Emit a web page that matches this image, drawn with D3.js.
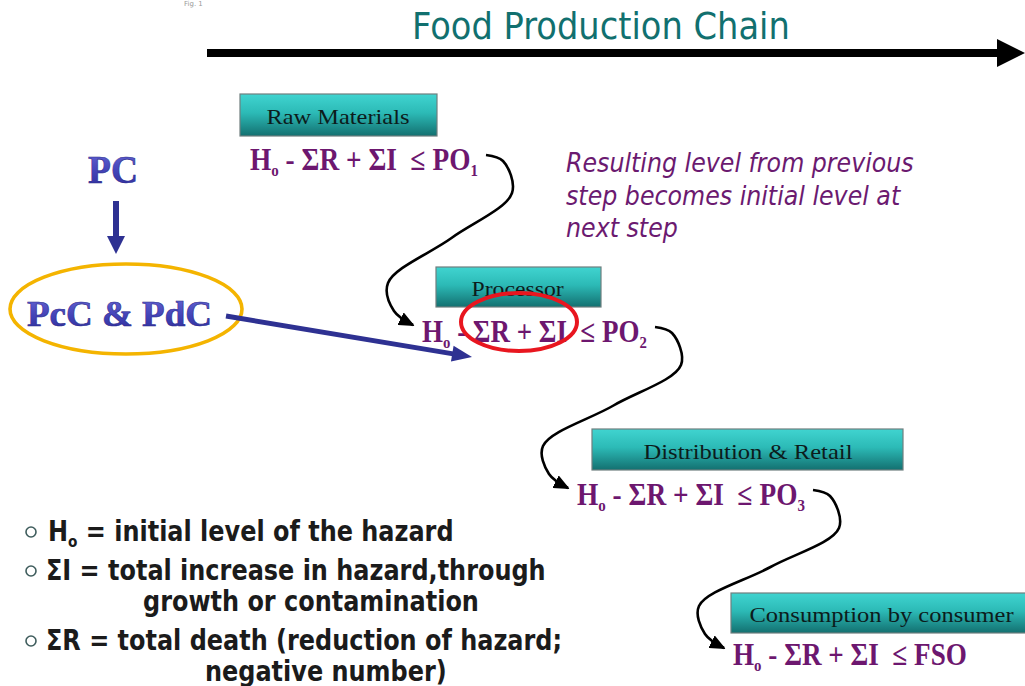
<!DOCTYPE html>
<html>
<head>
<meta charset="utf-8">
<script src="https://cdn.jsdelivr.net/npm/d3@7"></script>
<style>
  html, body { margin: 0; padding: 0; background: #fff; overflow: hidden; }
  svg { display: block; }
  text { white-space: pre; }
</style>
</head>
<body>
<svg id="chart" width="1025" height="686"></svg>
<script>
// steps of the chain, top to bottom
const steps = ["Raw Materials", "Processor", "Distribution & Retail", "Consumption by consumer"];
const limits = ["PO", "PO", "PO", "FSO"];
const limitSubs = ["1", "2", "3", ""];

const noteLines = ["Resulting level from previous", "step becomes initial level at", "next step"];

// legend at the bottom left
const legendSymbols = ["H", "\u03a3I", "", "\u03a3R", ""];
const legendSubs = ["o", "", "", "", ""];
const legendTexts = [
  " = initial level of the hazard",
  " = total increase in hazard,through",
  "growth or contamination",
  " = total death (reduction of hazard;",
  "negative number)"
];

// layout (pixels)
const boxPos = [[240, 94, 197, 42], [436, 267, 165, 40], [592, 429, 311, 41], [731, 593, 300, 40]];
const boxTextPos = [[338, 124, 143], [518, 296, 93], [748, 459, 209], [882, 622, 265]];
const formulaPos = [[250, 170, 228], [422, 342, 225], [577, 505, 228], [733, 665, 234]];
const legendPos = [[48, 541, true], [46, 580, true], [143, 611, false], [46, 650, true], [205, 681, false]];

const serif = "'Liberation Serif', 'Times New Roman', serif";
const sans = "'DejaVu Sans', Verdana, sans-serif";
const purple = "#6d176f";
const navy = "#2e3192";

const svg = d3.select("#chart");
const defs = svg.append("defs");

const boxGrad = defs.append("linearGradient").attr("id", "boxFill")
  .attr("x1", 0).attr("y1", 0).attr("x2", 0).attr("y2", 1);
boxGrad.append("stop").attr("offset", "0%").attr("stop-color", "#40d4d0");
boxGrad.append("stop").attr("offset", "45%").attr("stop-color", "#2cbab6");
boxGrad.append("stop").attr("offset", "100%").attr("stop-color", "#137070");

const blueGrad = defs.append("linearGradient").attr("id", "blueFill")
  .attr("x1", 0).attr("y1", 0).attr("x2", 0).attr("y2", 1);
blueGrad.append("stop").attr("offset", "0%").attr("stop-color", "#6a6ad8");
blueGrad.append("stop").attr("offset", "55%").attr("stop-color", "#4343b8");
blueGrad.append("stop").attr("offset", "100%").attr("stop-color", "#2c2c96");

defs.append("marker").attr("id", "blackHead")
  .attr("markerUnits", "userSpaceOnUse")
  .attr("viewBox", "0 0 16 14").attr("refX", 14).attr("refY", 7)
  .attr("markerWidth", 16).attr("markerHeight", 14).attr("orient", "auto")
  .append("path").attr("d", "M0,0 L16,7 L0,14 Z").attr("fill", "#000");

// stretch a text horizontally so it fills [left, left+width]
function fit(t, left, baseline, width, sx) {
  const b = t.node().getBBox();
  if (sx === undefined) sx = width / b.width;
  t.attr("transform", `translate(${left - b.x * sx},${baseline}) scale(${sx},1)`);
  return sx;
}

// faint caption at the very top
svg.append("text").attr("x", 184).attr("y", 6)
  .attr("font-family", sans).attr("font-size", 7).attr("fill", "#9a9a9a")
  .text("Fig. 1");

// title + main arrow
const title = svg.append("text")
  .attr("font-family", sans).attr("font-size", 37).attr("fill", "#11706f")
  .text("Food Production Chain");
fit(title, 412, 39, 378);

svg.append("rect").attr("x", 207).attr("y", 49).attr("width", 792).attr("height", 8).attr("fill", "#000");
svg.append("path").attr("d", "M997,39 L1025,53 L997,67 Z").attr("fill", "#000");

// step boxes
const box = svg.selectAll(".step").data(steps).join("g").attr("class", "step");
box.append("rect")
  .attr("x", (d, i) => boxPos[i][0]).attr("y", (d, i) => boxPos[i][1])
  .attr("width", (d, i) => boxPos[i][2]).attr("height", (d, i) => boxPos[i][3])
  .attr("fill", "url(#boxFill)").attr("stroke", "#6f7f7f").attr("stroke-width", 1.2);
box.append("text")
  .attr("font-family", serif).attr("font-size", 22).attr("fill", "#0c1c1c")
  .text(d => d)
  .each(function(d, i) {
    const p = boxTextPos[i];
    fit(d3.select(this), p[0] - p[2] / 2, p[1], p[2]);
  });

// formulas
svg.selectAll(".formula").data(limits).join("text").attr("class", "formula")
  .attr("font-family", serif).attr("font-weight", "bold").attr("font-size", 31).attr("fill", purple)
  .each(function(d, i) {
    const t = d3.select(this);
    t.append("tspan").text("H");
    t.append("tspan").attr("font-size", 17).attr("dy", 6).text("o");
    t.append("tspan").attr("dy", -6).text("\u00a0-\u00a0\u03a3R\u00a0+\u00a0\u03a3I\u00a0\u00a0\u2264\u00a0" + d);
    if (limitSubs[i]) t.append("tspan").attr("font-size", 17).attr("dy", 6).text(limitSubs[i]);
    const p = formulaPos[i];
    fit(t, p[0], p[1], p[2]);
  });

// curved arrows: end of one formula to the start of the next
const curve = d3.line().curve(d3.curveCatmullRom.alpha(0.5));
for (let i = 0; i < formulaPos.length - 1; i++) {
  const a = formulaPos[i], b = formulaPos[i + 1];
  const s = [a[0] + a[2] + 8, a[1] - 15];
  const t = [b[0] - 9, b[1] - 17];
  const pts = [
    s,
    [s[0] + 17, s[1] + 6],
    [s[0] + 26, s[1] + 38],
    [(s[0] + t[0]) / 2 + 2, (s[1] + t[1]) / 2 - 2],
    [t[0] - 25, t[1] - 42],
    [t[0] - 19, t[1] - 14],
    t
  ];
  svg.append("path").attr("d", curve(pts))
    .attr("fill", "none").attr("stroke", "#000").attr("stroke-width", 2.6)
    .attr("marker-end", "url(#blackHead)");
}

// note in italics
let noteScale;
svg.selectAll(".note").data(noteLines).join("text").attr("class", "note")
  .attr("font-family", sans).attr("font-style", "italic").attr("font-size", 26).attr("fill", "#6b1a70")
  .text(d => d)
  .each(function(d, i) {
    const t = d3.select(this);
    if (i === 0) noteScale = fit(t, 566, 172, 348);
    else fit(t, 566, 172 + i * 32.5, 0, noteScale);
  });

// PC -> PcC & PdC
const pc = svg.append("text").attr("font-family", serif).attr("font-weight", "bold")
  .attr("font-size", 41).attr("fill", "url(#blueFill)").attr("stroke", "#2a2a8c").attr("stroke-width", 0.6)
  .text("PC");
fit(pc, 88, 183, 50);

svg.append("rect").attr("x", 113).attr("y", 201).attr("width", 6).attr("height", 38).attr("fill", navy);
svg.append("path").attr("d", "M107,236 L125,236 L116,254 Z").attr("fill", navy);

svg.append("ellipse").attr("cx", 126).attr("cy", 309).attr("rx", 116).attr("ry", 45)
  .attr("fill", "none").attr("stroke", "#f4b400").attr("stroke-width", 3.6);

const pcc = svg.append("text").attr("font-family", serif).attr("font-weight", "bold")
  .attr("font-size", 36).attr("fill", "url(#blueFill)").attr("stroke", "#2a2a8c").attr("stroke-width", 0.6)
  .text("PcC & PdC");
fit(pcc, 27, 326, 185);

// long blue arrow into the processor formula
const ax0 = 226, ay0 = 316, ax1 = 472, ay1 = 357;
const ang = Math.atan2(ay1 - ay0, ax1 - ax0) * 180 / Math.PI;
const len = Math.hypot(ax1 - ax0, ay1 - ay0);
const blueArrow = svg.append("g").attr("transform", `translate(${ax0},${ay0}) rotate(${ang})`);
blueArrow.append("rect").attr("x", 0).attr("y", -2.5).attr("width", len - 16).attr("height", 5).attr("fill", navy);
blueArrow.append("path").attr("d", `M${len - 20},-8 L${len},0 L${len - 20},8 Z`).attr("fill", navy);

// red ring on the sums
svg.append("ellipse").attr("cx", 519).attr("cy", 322).attr("rx", 58).attr("ry", 29)
  .attr("fill", "none").attr("stroke", "#e8161f").attr("stroke-width", 4);

// legend
let legendScale;
const legend = svg.selectAll(".legend").data(legendTexts).join("g").attr("class", "legend");
legend.each(function(d, i) {
  const g = d3.select(this);
  const p = legendPos[i];
  if (p[2]) {
    g.append("circle").attr("cx", 31).attr("cy", p[1] - 9).attr("r", 5)
      .attr("fill", "none").attr("stroke", "#3f5d5d").attr("stroke-width", 1.6);
  }
  const t = g.append("text").attr("font-family", sans).attr("font-weight", "bold")
    .attr("font-size", 28).attr("fill", "#1b1b1b");
  if (legendSymbols[i]) t.append("tspan").text(legendSymbols[i]);
  if (legendSubs[i]) {
    t.append("tspan").attr("font-size", 16).attr("dy", 6).text(legendSubs[i]);
    t.append("tspan").attr("dy", -6).text(d);
  } else {
    t.append("tspan").text(d);
  }
  if (legendScale === undefined) {
    // scale from the widest line, then apply the same to all
    const probe = svg.append("text").attr("font-family", sans).attr("font-weight", "bold")
      .attr("font-size", 28).text(legendSymbols[1] + legendTexts[1]);
    legendScale = 500 / probe.node().getBBox().width;
    probe.remove();
  }
  fit(t, p[0], p[1], 0, legendScale);
});
</script>
</body>
</html>
